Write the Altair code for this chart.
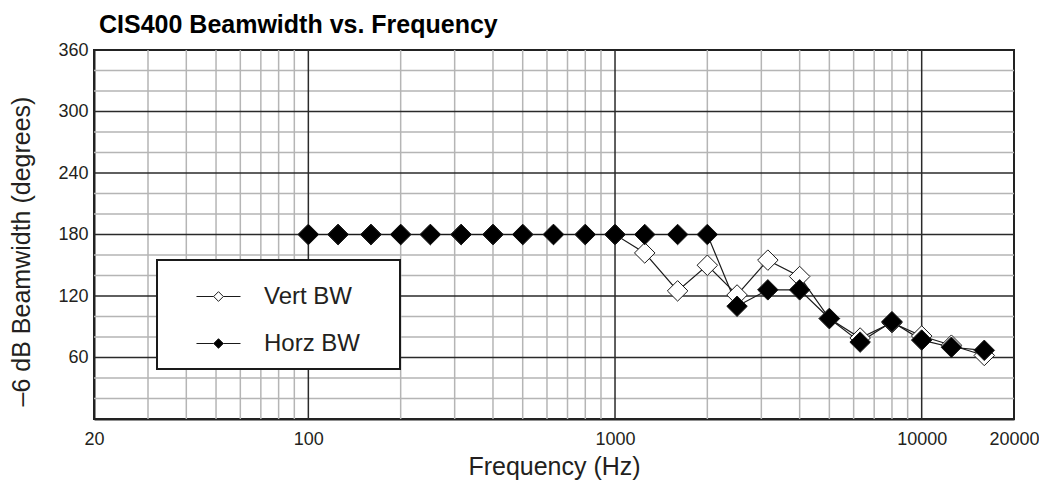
import altair as alt
import pandas as pd

# ---- data ----
freqs = [100, 125, 160, 200, 250, 315, 400, 500, 630, 800, 1000, 1250,
         1600, 2000, 2500, 3150, 4000, 5000, 6300, 8000, 10000, 12500, 16000]
vert_bw = [180, 180, 180, 180, 180, 180, 180, 180, 180, 180, 180, 162,
           125, 150, 121, 155, 139, 98, 79, 94, 81, 72, 62]
horz_bw = [180, 180, 180, 180, 180, 180, 180, 180, 180, 180, 180, 180,
           180, 180, 110, 126, 126, 98, 75, 95, 77, 70, 67]
series_names = ["Vert BW", "Horz BW"]
series_fill = ["white", "black"]

x_tick_values = [20, 100, 1000, 10000, 20000]
y_tick_values = [60, 120, 180, 240, 300, 360]
x_major_grid = [100, 1000, 10000]
x_minor_grid = [30, 40, 50, 60, 70, 80, 90,
                200, 300, 400, 500, 600, 700, 800, 900,
                2000, 3000, 4000, 5000, 6000, 7000, 8000, 9000]
y_major_grid = [60, 120, 180, 240, 300]
y_minor_grid = [20, 40, 80, 100, 140, 160, 200, 220, 260, 280, 320, 340]

FONT = "Liberation Sans"
TEXT = "#231f20"

df = pd.concat([
    pd.DataFrame({"series": series_names[0], "freq": freqs, "value": vert_bw}),
    pd.DataFrame({"series": series_names[1], "freq": freqs, "value": horz_bw}),
], ignore_index=True)

x_scale = alt.Scale(type="log", domain=[20, 20000], nice=False)
y_scale = alt.Scale(domain=[0, 360], nice=False, zero=False)

X = alt.X("freq:Q", scale=x_scale, title="Frequency (Hz)",
          axis=alt.Axis(values=x_tick_values, format="d", grid=False, ticks=False,
                        domain=True, domainColor="#222", domainWidth=2,
                        labelFont=FONT, labelFontSize=18, labelColor=TEXT,
                        labelPadding=11, labelFlush=False, labelOverlap=False,
                        titleFont=FONT, titleFontSize=25, titleFontWeight="normal",
                        titleColor=TEXT, titlePadding=6))
Y = alt.Y("value:Q", scale=y_scale, title="\u20136 dB Beamwidth (degrees)",
          axis=alt.Axis(values=y_tick_values, grid=False, ticks=False,
                        domain=True, domainColor="#222", domainWidth=2,
                        labelFont=FONT, labelFontSize=18, labelColor=TEXT,
                        labelPadding=6, labelOverlap=False,
                        titleFont=FONT, titleFontSize=25, titleFontWeight="normal",
                        titleColor=TEXT, titleX=-60, titleY=201))

minor_x = alt.Chart(pd.DataFrame({"freq": x_minor_grid})).mark_rule(
    color="#b5b5b5", strokeWidth=1.5).encode(x=X)
minor_y = alt.Chart(pd.DataFrame({"value": y_minor_grid})).mark_rule(
    color="#b5b5b5", strokeWidth=1.5).encode(y=Y)
major_x = alt.Chart(pd.DataFrame({"freq": x_major_grid})).mark_rule(
    color="#2a2a2a", strokeWidth=1.5).encode(x=X)
major_y = alt.Chart(pd.DataFrame({"value": y_major_grid})).mark_rule(
    color="#2a2a2a", strokeWidth=1.5).encode(y=Y)

lines = alt.Chart(df).mark_line(color="#1a1a1a", strokeWidth=1.2).encode(
    x=X, y=Y, detail="series:N")

legend_symbol = ("M-0.957,0L-0.21,0M0.21,0L0.957,0"
                 "M-0.21,0L0,-0.21L0.21,0L0,0.21Z")

points = alt.Chart(df).mark_point(
    shape="diamond", filled=True, size=420, stroke="#1a1a1a", strokeWidth=1,
    opacity=1).encode(
    x=X, y=Y,
    fill=alt.Fill("series:N",
                  scale=alt.Scale(domain=series_names, range=series_fill),
                  legend=alt.Legend(
                      title=None, orient="none", legendX=63, legendY=210,
                      padding=13, strokeColor="#1a1a1a", fillColor="white",
                      symbolType=legend_symbol, symbolSize=2116, symbolOffset=25,
                      symbolStrokeColor="#1a1a1a", symbolStrokeWidth=1,
                      labelFont=FONT, labelFontSize=24, labelColor=TEXT,
                      labelOffset=22, rowPadding=11,
                      labelExpr="datum.label + '\u00a0\u00a0\u00a0\u00a0\u200b'")))

chart = alt.layer(minor_x, minor_y, major_x, major_y, lines, points).properties(
    width=920, height=369,
    autosize=alt.AutoSizeParams(type="none"),
    padding={"left": 86, "top": 42, "right": 25, "bottom": 61},
    title=alt.TitleParams("CIS400 Beamwidth vs. Frequency", anchor="start",
                          frame="group", font=FONT, fontSize=25,
                          fontWeight="bold", color="black", dx=5, offset=3),
).configure_view(stroke="#222", strokeWidth=2).configure_legend(strokeWidth=2)

chart.save("out.html", embed_options={"renderer": "svg", "actions": False})
